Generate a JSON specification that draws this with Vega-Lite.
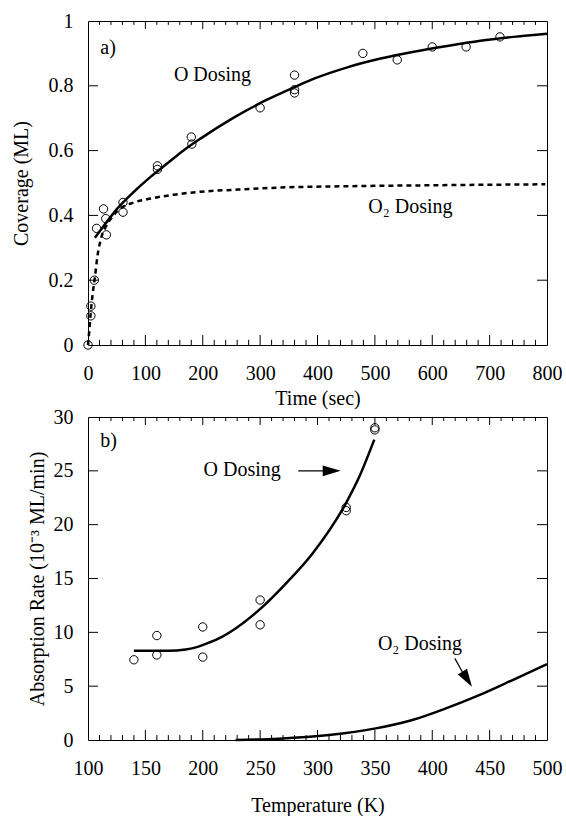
{
  "$schema": "https://vega.github.io/schema/vega-lite/v6.json",
  "background": "white",
  "padding": {"left": 10, "top": 10, "right": 5, "bottom": 5},
  "spacing": 72,
  "bounds": "flush",
  "config": {
    "font": "Liberation Serif",
    "view": {"stroke": "black", "strokeWidth": 1},
    "axis": {
      "labelFont": "Liberation Serif", "labelFontSize": 20, "labelColor": "black", "labelFlush": false,
      "titleFont": "Liberation Serif", "titleFontSize": 20, "titleFontWeight": "normal", "titleColor": "black",
      "domain": false, "grid": false, "ticks": false
    },
    "tick": {"color": "black", "opacity": 1, "thickness": 1},
    "rule": {"color": "black", "opacity": 1, "strokeWidth": 1}
  },
  "datasets": {
    "aPoints": [
      {"t": 0, "c": 0}, {"t": 5, "c": 0.09}, {"t": 5, "c": 0.12}, {"t": 11, "c": 0.2},
      {"t": 15, "c": 0.36}, {"t": 27, "c": 0.42}, {"t": 31, "c": 0.39}, {"t": 32, "c": 0.34},
      {"t": 61, "c": 0.44}, {"t": 61, "c": 0.41}, {"t": 121, "c": 0.553}, {"t": 121, "c": 0.542},
      {"t": 180, "c": 0.642}, {"t": 181, "c": 0.62}, {"t": 300, "c": 0.732},
      {"t": 360, "c": 0.833}, {"t": 360, "c": 0.788}, {"t": 360, "c": 0.778},
      {"t": 479, "c": 0.9}, {"t": 539, "c": 0.88}, {"t": 600, "c": 0.92}, {"t": 659, "c": 0.92}, {"t": 718, "c": 0.951}
    ],
    "aCurveO": [
      {"t": 12, "c": 0.331}, {"t": 22, "c": 0.355}, {"t": 51, "c": 0.421}, {"t": 80, "c": 0.473},
      {"t": 109, "c": 0.519}, {"t": 138, "c": 0.56}, {"t": 167, "c": 0.601}, {"t": 196, "c": 0.637},
      {"t": 254, "c": 0.702}, {"t": 312, "c": 0.757}, {"t": 359, "c": 0.795}, {"t": 394, "c": 0.822},
      {"t": 452, "c": 0.857}, {"t": 510, "c": 0.884}, {"t": 568, "c": 0.905}, {"t": 626, "c": 0.923},
      {"t": 684, "c": 0.939}, {"t": 742, "c": 0.951}, {"t": 800, "c": 0.961}
    ],
    "aCurveO2": [
      {"t": 0, "c": 0}, {"t": 2.3, "c": 0.046}, {"t": 4.7, "c": 0.098}, {"t": 8.2, "c": 0.159},
      {"t": 12.2, "c": 0.211}, {"t": 16.3, "c": 0.272}, {"t": 22, "c": 0.324}, {"t": 31, "c": 0.365},
      {"t": 42.5, "c": 0.396}, {"t": 60, "c": 0.425}, {"t": 80, "c": 0.44}, {"t": 109, "c": 0.452},
      {"t": 150, "c": 0.464}, {"t": 196, "c": 0.473}, {"t": 254, "c": 0.479}, {"t": 335, "c": 0.486},
      {"t": 450, "c": 0.49}, {"t": 600, "c": 0.493}, {"t": 797, "c": 0.496}
    ],
    "aLabels": [
      {"t": 35, "c": 0.917, "label": "a)"},
      {"t": 217, "c": 0.833, "label": "O Dosing"},
      {"t": 562, "c": 0.4255, "label": "O₂ Dosing"}
    ],
    "aMajorX": [{"v": 100}, {"v": 200}, {"v": 300}, {"v": 400}, {"v": 500}, {"v": 600}, {"v": 700}],
    "aMinorX": [{"v": 20}, {"v": 40}, {"v": 60}, {"v": 80}, {"v": 120}, {"v": 140}, {"v": 160}, {"v": 180}, {"v": 220}, {"v": 240}, {"v": 260}, {"v": 280}, {"v": 320}, {"v": 340}, {"v": 360}, {"v": 380}, {"v": 420}, {"v": 440}, {"v": 460}, {"v": 480}, {"v": 520}, {"v": 540}, {"v": 560}, {"v": 580}, {"v": 620}, {"v": 640}, {"v": 660}, {"v": 680}, {"v": 720}, {"v": 740}, {"v": 760}, {"v": 780}],
    "aMajorY": [{"v": 0.2}, {"v": 0.4}, {"v": 0.6}, {"v": 0.8}],
    "bPoints": [
      {"T": 140, "r": 7.45}, {"T": 160, "r": 9.7}, {"T": 160, "r": 7.9}, {"T": 200, "r": 10.5},
      {"T": 200, "r": 7.7}, {"T": 250, "r": 13.0}, {"T": 250, "r": 10.7}, {"T": 325, "r": 21.6},
      {"T": 325, "r": 21.3}, {"T": 350, "r": 29.0}, {"T": 350, "r": 28.8}
    ],
    "bCurveO": [
      {"T": 140, "r": 8.29}, {"T": 170, "r": 8.29}, {"T": 185, "r": 8.4}, {"T": 194, "r": 8.6},
      {"T": 202, "r": 8.9}, {"T": 214, "r": 9.43}, {"T": 228.6, "r": 10.36}, {"T": 250.4, "r": 12.2},
      {"T": 272.2, "r": 14.5}, {"T": 295.5, "r": 17.3}, {"T": 324.6, "r": 21.96}, {"T": 336.2, "r": 24.4},
      {"T": 349.5, "r": 27.9}
    ],
    "bCurveO2": [
      {"T": 228.6, "r": 0.0}, {"T": 266.4, "r": 0.12}, {"T": 310, "r": 0.46}, {"T": 350.8, "r": 1.08},
      {"T": 382.7, "r": 1.86}, {"T": 411.9, "r": 2.94}, {"T": 440.9, "r": 4.17}, {"T": 470, "r": 5.57},
      {"T": 500, "r": 7.05}
    ],
    "bLabels": [
      {"T": 118, "r": 27.75, "label": "b)"},
      {"T": 234.4, "r": 25.1, "label": "O Dosing"},
      {"T": 389.3, "r": 8.9, "label": "O₂ Dosing"}
    ],
    "bArrowShafts": [
      {"T": 283.2, "r": 25.0, "T2": 316, "r2": 25.0},
      {"T": 419.7, "r": 7.58, "T2": 430, "r2": 5.6}
    ],
    "bArrowH": [{"T": 320.2, "r": 25.0}],
    "bArrowD": [{"T": 434.6, "r": 4.94}],
    "bMajorX": [{"v": 150}, {"v": 200}, {"v": 250}, {"v": 300}, {"v": 350}, {"v": 400}, {"v": 450}],
    "bMinorX": [{"v": 110}, {"v": 120}, {"v": 130}, {"v": 140}, {"v": 160}, {"v": 170}, {"v": 180}, {"v": 190}, {"v": 210}, {"v": 220}, {"v": 230}, {"v": 240}, {"v": 260}, {"v": 270}, {"v": 280}, {"v": 290}, {"v": 310}, {"v": 320}, {"v": 330}, {"v": 340}, {"v": 360}, {"v": 370}, {"v": 380}, {"v": 390}, {"v": 410}, {"v": 420}, {"v": 430}, {"v": 440}, {"v": 460}, {"v": 470}, {"v": 480}, {"v": 490}],
    "bMajorY": [{"v": 5}, {"v": 10}, {"v": 15}, {"v": 20}, {"v": 25}]
  },
  "vconcat": [
    {
      "width": 459,
      "height": 324,
      "layer": [
        {
          "data": {"name": "aCurveO"},
          "mark": {"type": "line", "color": "black", "strokeWidth": 2.5, "interpolate": "monotone"},
          "encoding": {
            "x": {"field": "t", "type": "quantitative", "scale": {"domain": [0, 800], "nice": false},
              "axis": {"orient": "bottom", "values": [0, 100, 200, 300, 400, 500, 600, 700, 800],
                "labelPadding": 18, "title": "Time (sec)", "titlePadding": 5}},
            "y": {"field": "c", "type": "quantitative", "scale": {"domain": [0, 1], "nice": false},
              "axis": {"orient": "left", "values": [0, 0.2, 0.4, 0.6, 0.8, 1], "format": "~g",
                "labelPadding": 15, "title": "Coverage (ML)", "titlePadding": 17}}
          }
        },
        {
          "data": {"name": "aCurveO2"},
          "mark": {"type": "line", "color": "black", "strokeWidth": 2.5, "strokeDash": [5, 4], "interpolate": "monotone"},
          "encoding": {
            "x": {"field": "t", "type": "quantitative"},
            "y": {"field": "c", "type": "quantitative"}
          }
        },
        {
          "data": {"name": "aPoints"},
          "mark": {"type": "point", "shape": "circle", "filled": false, "color": "black", "size": 70, "strokeWidth": 1, "opacity": 1},
          "encoding": {
            "x": {"field": "t", "type": "quantitative"},
            "y": {"field": "c", "type": "quantitative"}
          }
        },
        {
          "data": {"name": "aLabels"},
          "mark": {"type": "text", "font": "Liberation Serif", "fontSize": 20, "color": "black", "align": "center", "baseline": "middle"},
          "encoding": {
            "x": {"field": "t", "type": "quantitative"},
            "y": {"field": "c", "type": "quantitative"},
            "text": {"field": "label"}
          }
        },
        {
          "data": {"name": "aMajorX"},
          "mark": {"type": "rule"},
          "encoding": {"x": {"field": "v", "type": "quantitative"}, "y": {"datum": 0, "type": "quantitative"}, "y2": {"datum": 0.031}}
        },
        {
          "data": {"name": "aMajorX"},
          "mark": {"type": "rule"},
          "encoding": {"x": {"field": "v", "type": "quantitative"}, "y": {"datum": 1, "type": "quantitative"}, "y2": {"datum": 0.975}}
        },
        {
          "data": {"name": "aMinorX"},
          "mark": {"type": "rule"},
          "encoding": {"x": {"field": "v", "type": "quantitative"}, "y": {"datum": 0, "type": "quantitative"}, "y2": {"datum": 0.016}}
        },
        {
          "data": {"name": "aMinorX"},
          "mark": {"type": "rule"},
          "encoding": {"x": {"field": "v", "type": "quantitative"}, "y": {"datum": 1, "type": "quantitative"}, "y2": {"datum": 0.988}}
        },
        {
          "data": {"name": "aMajorY"},
          "mark": {"type": "tick", "orient": "horizontal", "size": 20, "clip": true},
          "encoding": {"y": {"field": "v", "type": "quantitative"}, "x": {"datum": 0, "type": "quantitative"}}
        },
        {
          "data": {"name": "aMajorY"},
          "mark": {"type": "tick", "orient": "horizontal", "size": 20, "clip": true},
          "encoding": {"y": {"field": "v", "type": "quantitative"}, "x": {"datum": 800, "type": "quantitative"}}
        }
      ]
    },
    {
      "width": 459,
      "height": 323,
      "layer": [
        {
          "data": {"name": "bCurveO"},
          "mark": {"type": "line", "color": "black", "strokeWidth": 2.5, "interpolate": "monotone"},
          "encoding": {
            "x": {"field": "T", "type": "quantitative", "scale": {"domain": [100, 500], "nice": false, "zero": false},
              "axis": {"orient": "bottom", "values": [100, 150, 200, 250, 300, 350, 400, 450, 500],
                "labelPadding": 18, "title": "Temperature (K)", "titlePadding": 17}},
            "y": {"field": "r", "type": "quantitative", "scale": {"domain": [0, 30], "nice": false},
              "axis": {"orient": "left", "values": [0, 5, 10, 15, 20, 25, 30],
                "labelPadding": 15, "title": "Absorption Rate (10⁻³ ML/min)", "titlePadding": 6}}
          }
        },
        {
          "data": {"name": "bCurveO2"},
          "mark": {"type": "line", "color": "black", "strokeWidth": 2.5, "interpolate": "monotone"},
          "encoding": {
            "x": {"field": "T", "type": "quantitative"},
            "y": {"field": "r", "type": "quantitative"}
          }
        },
        {
          "data": {"name": "bPoints"},
          "mark": {"type": "point", "shape": "circle", "filled": false, "color": "black", "size": 70, "strokeWidth": 1, "opacity": 1},
          "encoding": {
            "x": {"field": "T", "type": "quantitative"},
            "y": {"field": "r", "type": "quantitative"}
          }
        },
        {
          "data": {"name": "bLabels"},
          "mark": {"type": "text", "font": "Liberation Serif", "fontSize": 20, "color": "black", "align": "center", "baseline": "middle"},
          "encoding": {
            "x": {"field": "T", "type": "quantitative"},
            "y": {"field": "r", "type": "quantitative"},
            "text": {"field": "label"}
          }
        },
        {
          "data": {"name": "bArrowShafts"},
          "mark": {"type": "rule", "color": "black", "strokeWidth": 1.2},
          "encoding": {
            "x": {"field": "T", "type": "quantitative"},
            "y": {"field": "r", "type": "quantitative"},
            "x2": {"field": "T2"},
            "y2": {"field": "r2"}
          }
        },
        {
          "data": {"name": "bArrowH"},
          "mark": {"type": "point", "shape": "M0,0L-1,-0.3L-1,0.3Z", "filled": true, "color": "black", "size": 1296, "opacity": 1, "angle": 0},
          "encoding": {
            "x": {"field": "T", "type": "quantitative"},
            "y": {"field": "r", "type": "quantitative"}
          }
        },
        {
          "data": {"name": "bArrowD"},
          "mark": {"type": "point", "shape": "M0,0L-1,-0.3L-1,0.3Z", "filled": true, "color": "black", "size": 1296, "opacity": 1, "angle": 58},
          "encoding": {
            "x": {"field": "T", "type": "quantitative"},
            "y": {"field": "r", "type": "quantitative"}
          }
        },
        {
          "data": {"name": "bMajorX"},
          "mark": {"type": "rule"},
          "encoding": {"x": {"field": "v", "type": "quantitative"}, "y": {"datum": 0, "type": "quantitative"}, "y2": {"datum": 0.93}}
        },
        {
          "data": {"name": "bMajorX"},
          "mark": {"type": "rule"},
          "encoding": {"x": {"field": "v", "type": "quantitative"}, "y": {"datum": 30, "type": "quantitative"}, "y2": {"datum": 29.26}}
        },
        {
          "data": {"name": "bMinorX"},
          "mark": {"type": "rule"},
          "encoding": {"x": {"field": "v", "type": "quantitative"}, "y": {"datum": 0, "type": "quantitative"}, "y2": {"datum": 0.46}}
        },
        {
          "data": {"name": "bMinorX"},
          "mark": {"type": "rule"},
          "encoding": {"x": {"field": "v", "type": "quantitative"}, "y": {"datum": 30, "type": "quantitative"}, "y2": {"datum": 29.63}}
        },
        {
          "data": {"name": "bMajorY"},
          "mark": {"type": "tick", "orient": "horizontal", "size": 20, "clip": true},
          "encoding": {"y": {"field": "v", "type": "quantitative"}, "x": {"datum": 100, "type": "quantitative"}}
        },
        {
          "data": {"name": "bMajorY"},
          "mark": {"type": "tick", "orient": "horizontal", "size": 20, "clip": true},
          "encoding": {"y": {"field": "v", "type": "quantitative"}, "x": {"datum": 500, "type": "quantitative"}}
        }
      ]
    }
  ]
}
